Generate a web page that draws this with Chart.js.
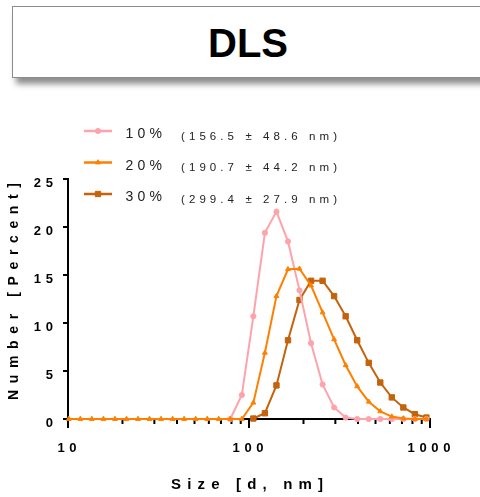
<!DOCTYPE html>
<html>
<head>
<meta charset="utf-8">
<script src="https://cdn.jsdelivr.net/npm/chart.js@4/dist/chart.umd.min.js"></script>
<style>
  html, body { margin: 0; padding: 0; background: #fff; overflow: hidden; }
  #wrap { position: relative; width: 480px; height: 497px; }
  #titleBox {
    position: absolute; left: 12px; top: 6px; width: 472px; height: 70px;
    border: 1.5px solid #8c8c8c; background: #fff;
    box-shadow: 4px 6px 6px rgba(0, 0, 0, 0.45);
  }
  #titleText {
    position: absolute; left: 0; top: 0; width: 480px; height: 86px;
    font: bold 40px "Liberation Sans", Arial, sans-serif; color: #000;
    line-height: 86px; text-align: center;
    padding-left: 16px; box-sizing: border-box;
  }
  #chart { position: absolute; left: 0; top: 0; }
</style>
</head>
<body>
<div id="wrap">
  <div id="titleBox"></div>
  <div id="titleText">DLS</div>
  <canvas id="chart" width="480" height="497"></canvas>
</div>
<script>
// size classes (d, nm)
const sizes = [10.10, 11.70, 13.54, 15.69, 18.17, 21.04, 24.36, 28.21, 32.67, 37.84, 43.82,
  50.75, 58.77, 68.06, 78.82, 91.28, 105.7, 122.4, 141.8, 164.2, 190.1, 220.2, 255.0,
  295.3, 342.0, 396.1, 458.7, 531.2, 615.1, 712.4, 825.0, 955.4];

// number distribution, percent
const pct10 = [null, null, null, null, null, null, null, null, null, null, null,
  null, null, null, 0, 2.5, 10.7, 19.4, 21.6, 18.5, 13.4, 7.9, 3.6,
  1.2, 0.15, 0, 0, 0, 0, 0, 0, 0];
const pct20 = [0, 0, 0, 0, 0, 0, 0, 0, 0, 0, 0,
  0, 0, 0, 0, 0, 1.7, 6.9, 12.8, 15.6, 15.65, 13.9, 11.1,
  8.3, 5.6, 3.4, 1.8, 0.8, 0.25, 0.05, 0, 0];
const pct30 = [null, null, null, null, null, null, null, null, null, null, null,
  null, null, null, null, null, 0.05, 0.6, 3.5, 8.2, 12.4, 14.4, 14.4,
  12.8, 10.7, 8.2, 5.85, 3.8, 2.25, 1.2, 0.5, 0.15];

const seriesNames = ['10%', '20%', '30%'];
const seriesStats = ['(156.5 \u00b1 48.6 nm)', '(190.7 \u00b1 44.2 nm)', '(299.4 \u00b1 27.9 nm)'];
const seriesColors = ['#ffa3ab', '#ff8000', '#c4630c'];

const yTicks = [0, 5, 10, 15, 20, 25];
const xLabels = [10, 100, 1000];
const xMinor = [20, 30, 40, 50, 60, 70, 80, 90, 200, 300, 400, 500, 600, 700, 800, 900];

const FONT = '"Liberation Sans", Arial, sans-serif';

function spacedWidth(ctx, text, sp) {
  const chars = [...text];
  let w = 0;
  chars.forEach(ch => { w += ctx.measureText(ch).width; });
  return w + sp * (chars.length - 1);
}

// draw text char by char with extra tracking
function drawSpaced(ctx, text, x, y, sp, align) {
  const w = spacedWidth(ctx, text, sp);
  let cx = align === 'center' ? x - w / 2 : align === 'right' ? x - w : x;
  ctx.textAlign = 'left';
  for (const ch of text) {
    ctx.fillText(ch, cx, y);
    cx += ctx.measureText(ch).width + sp;
  }
}

// spacing so the text spans a given width
function fitSpacing(ctx, text, width) {
  const n = [...text].length;
  return (width - spacedWidth(ctx, text, 0)) / (n - 1);
}

const axesPlugin = {
  id: 'axesPlugin',
  beforeDatasetsDraw(chart) {
    const { ctx, scales: { x, y } } = chart;
    const x0 = x.getPixelForValue(10);
    const y0 = y.getPixelForValue(0);
    ctx.save();
    ctx.strokeStyle = '#000';
    ctx.fillStyle = '#000';
    ctx.lineWidth = 2;

    // axis lines
    ctx.beginPath();
    ctx.moveTo(x0, y.getPixelForValue(25) - 1);
    ctx.lineTo(x0, y0 + 9);
    ctx.moveTo(x0 - 5, y0);
    ctx.lineTo(x.getPixelForValue(1000) + 1, y0);
    ctx.stroke();

    // y ticks + labels
    ctx.font = 'bold 13px ' + FONT;
    ctx.textBaseline = 'alphabetic';
    yTicks.forEach(v => {
      const py = y.getPixelForValue(v);
      ctx.beginPath();
      ctx.moveTo(x0 - 5, py);
      ctx.lineTo(x0, py);
      ctx.stroke();
      drawSpaced(ctx, String(v), 53, py + 8, 4.7, 'right');
    });

    // x ticks: long at decades, short in between
    xMinor.forEach(v => {
      const px = x.getPixelForValue(v);
      ctx.beginPath();
      ctx.moveTo(px, y0);
      ctx.lineTo(px, y0 + 5);
      ctx.stroke();
    });
    xLabels.forEach(v => {
      const px = x.getPixelForValue(v);
      ctx.beginPath();
      ctx.moveTo(px, y0);
      ctx.lineTo(px, y0 + 9);
      ctx.stroke();
      drawSpaced(ctx, String(v), px - 1, y0 + 33, 4.7, 'center');
    });

    // axis titles
    ctx.font = 'bold 15px ' + FONT;
    const xt = 'Size [d, nm]';
    drawSpaced(ctx, xt, 171, 489, fitSpacing(ctx, xt, 152), 'left');

    ctx.font = 'bold 14px ' + FONT;
    const yt = 'Number [Percent]';
    const sp = fitSpacing(ctx, yt, 217);
    ctx.translate(17.5, 400);
    ctx.rotate(-Math.PI / 2);
    drawSpaced(ctx, yt, 0, 0, sp, 'left');
    ctx.restore();
  },
  afterDatasetsDraw(chart) {
    const { ctx } = chart;
    ctx.save();
    chart.data.datasets.forEach((ds, i) => {
      const ly = 131 + i * 31.5;
      ctx.strokeStyle = ds.borderColor;
      ctx.lineWidth = 2.5;
      ctx.beginPath();
      ctx.moveTo(84, ly);
      ctx.lineTo(112, ly);
      ctx.stroke();
      ctx.fillStyle = ds.borderColor;
      ctx.lineWidth = 1;
      Chart.helpers.drawPoint(ctx, {
        pointStyle: ds.pointStyle, radius: ds.pointRadius, borderWidth: 1
      }, 98, ly);
      ctx.fillStyle = '#222';
      ctx.textBaseline = 'alphabetic';
      ctx.font = '14px ' + FONT;
      drawSpaced(ctx, seriesNames[i], 125.5, ly + 7, fitSpacing(ctx, seriesNames[i], 36.5), 'left');
      ctx.font = '11.5px ' + FONT;
      drawSpaced(ctx, seriesStats[i], 181, ly + 8.5, fitSpacing(ctx, seriesStats[i], 156), 'left');
    });
    ctx.restore();
  }
};

function points(vals) {
  return sizes.map((s, i) => ({ x: s, y: vals[i] }));
}

const styles = [
  { pointStyle: 'circle', pointRadius: 2.6 },
  { pointStyle: 'triangle', pointRadius: 2.8 },
  { pointStyle: 'rect', pointRadius: 3.8 }
];

const series = [pct10, pct20, pct30];
const datasets = series.map((vals, i) => ({
  label: seriesNames[i],
  data: points(vals),
  borderColor: seriesColors[i],
  backgroundColor: seriesColors[i],
  pointBackgroundColor: seriesColors[i],
  pointBorderColor: seriesColors[i],
  borderWidth: 2,
  pointStyle: styles[i].pointStyle,
  pointRadius: styles[i].pointRadius,
  pointBorderWidth: 1,
  tension: 0,
  clip: false,
  order: [2, 1, 3][i]
}));

new Chart(document.getElementById('chart').getContext('2d'), {
  type: 'line',
  data: { datasets: datasets },
  options: {
    responsive: false,
    animation: false,
    layout: { padding: { top: 179, right: 50, left: 0, bottom: 0 } },
    plugins: { legend: { display: false }, tooltip: { enabled: false } },
    scales: {
      x: {
        type: 'logarithmic', min: 10, max: 1000,
        grid: { display: false }, border: { display: false },
        ticks: { display: false },
        afterFit: s => { s.height = 78; }
      },
      y: {
        min: 0, max: 25,
        grid: { display: false }, border: { display: false },
        ticks: { display: false },
        afterFit: s => { s.width = 68; }
      }
    }
  },
  plugins: [axesPlugin]
});
</script>
</body>
</html>
